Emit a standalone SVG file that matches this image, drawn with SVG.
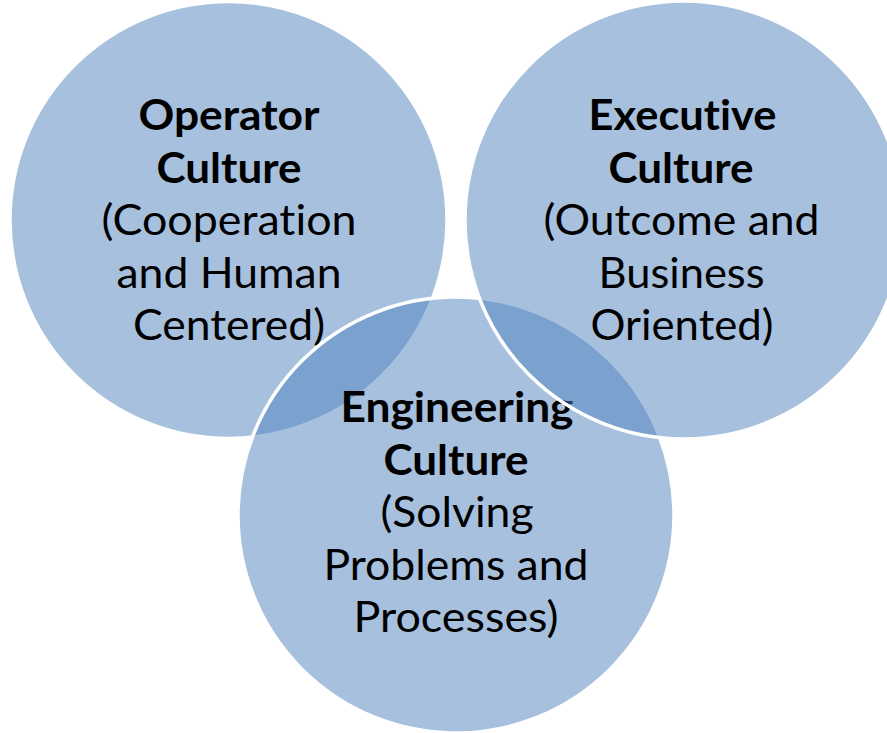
<svg xmlns="http://www.w3.org/2000/svg" width="887" height="733" viewBox="0 0 887 733">
  <style>
    .disc { fill: #4F81BD; fill-opacity: 0.5; stroke: #FFFFFF; stroke-width: 3.5; }
    .label { font-family: Lato, "Open Sans", "Liberation Sans", sans-serif; font-size: 42px; fill: #000000;
             font-variant-ligatures: none; font-feature-settings: "liga" 0, "clig" 0; }
    .title { font-weight: bold; }
  </style>
  <rect x="0" y="0" width="887" height="733" fill="#FFFFFF"/>

  <!-- Venn circles: drawn in stacking order, each with its own label -->
  <g id="operator-culture">
    <circle class="disc" cx="228.5" cy="220" r="218.5"/>
    <text class="label">
      <tspan class="title" x="138.5" y="130" textLength="181" lengthAdjust="spacingAndGlyphs">Operator</tspan>
      <tspan class="title" x="156.5" y="182.5" textLength="145" lengthAdjust="spacingAndGlyphs">Culture</tspan>
      <tspan x="101.5" y="235" textLength="255" lengthAdjust="spacingAndGlyphs">(Cooperation</tspan>
      <tspan x="116.5" y="287.5" textLength="225" lengthAdjust="spacingAndGlyphs">and Human</tspan>
      <tspan x="133" y="340" textLength="192" lengthAdjust="spacingAndGlyphs">Centered)</tspan>
    </text>
  </g>

  <g id="engineering-culture">
    <circle class="disc" cx="456" cy="515" r="218"/>
    <text class="label">
      <tspan class="title" x="340.5" y="422" textLength="233" lengthAdjust="spacingAndGlyphs">Engineering</tspan>
      <tspan class="title" x="383.5" y="474.5" textLength="145" lengthAdjust="spacingAndGlyphs">Culture</tspan>
      <tspan x="380.5" y="527" textLength="153" lengthAdjust="spacingAndGlyphs">(Solving</tspan>
      <tspan x="323.5" y="579.5" textLength="265" lengthAdjust="spacingAndGlyphs">Problems and</tspan>
      <tspan x="353.5" y="632" textLength="205" lengthAdjust="spacingAndGlyphs">Processes)</tspan>
    </text>
  </g>

  <g id="executive-culture">
    <circle class="disc" cx="684" cy="220" r="219"/>
    <text class="label">
      <tspan class="title" x="588.5" y="130" textLength="188" lengthAdjust="spacingAndGlyphs">Executive</tspan>
      <tspan class="title" x="608.5" y="182.5" textLength="145" lengthAdjust="spacingAndGlyphs">Culture</tspan>
      <tspan x="543.5" y="235" textLength="276" lengthAdjust="spacingAndGlyphs">(Outcome and</tspan>
      <tspan x="598.5" y="287.5" textLength="166" lengthAdjust="spacingAndGlyphs">Business</tspan>
      <tspan x="590.5" y="340" textLength="183" lengthAdjust="spacingAndGlyphs">Oriented)</tspan>
    </text>
  </g>

  <!-- no connectors in this diagram -->
  <g id="connectors"/>
</svg>
